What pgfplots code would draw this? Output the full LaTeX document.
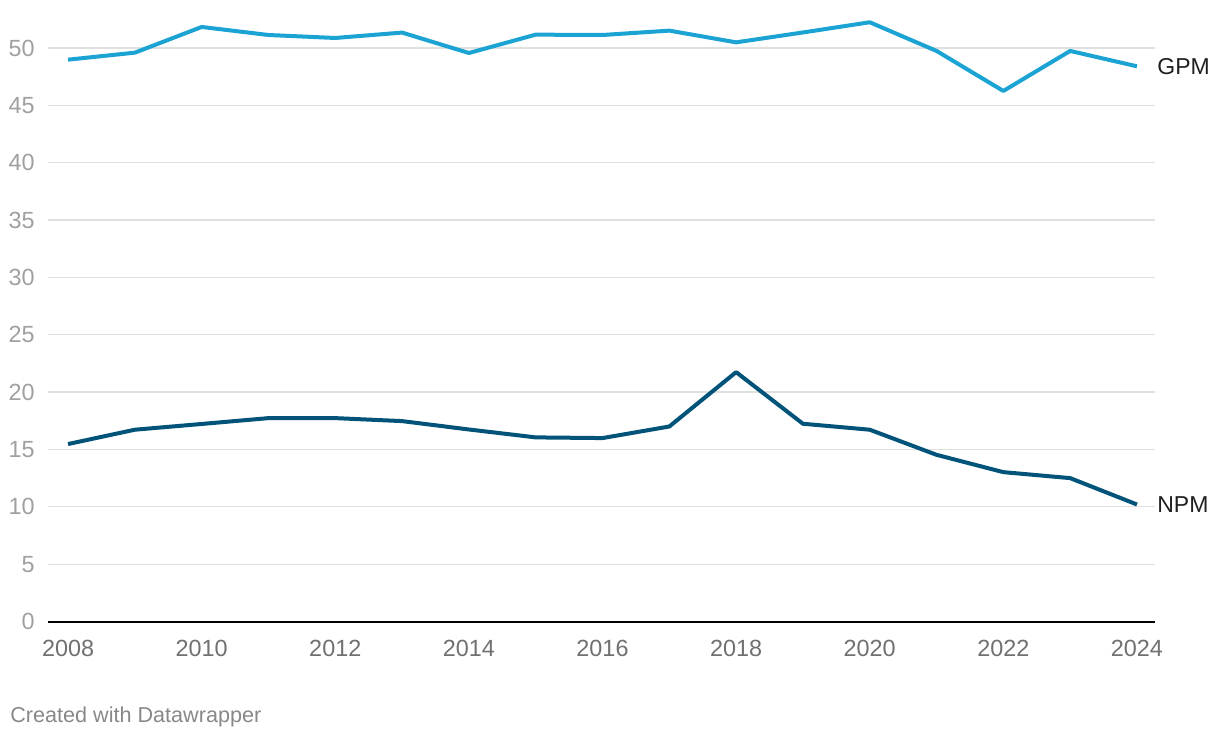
\documentclass[border=0pt]{standalone}
\usepackage{fontspec}
\setmainfont{Liberation Sans}
\usepackage{pgfplots}
\pgfplotsset{compat=1.18}
\definecolor{gpm}{HTML}{1BA3D3}
\definecolor{npm}{HTML}{01537A}
\definecolor{gridgray}{HTML}{E0E0E0}
\definecolor{ylab}{HTML}{A0A0A0}
\definecolor{xlab}{HTML}{707070}
\definecolor{foot}{HTML}{888888}

\begin{document}
\begin{tikzpicture}
\path[use as bounding box] (-24bp,-58.25bp) rectangle (586bp,310.75bp);
\begin{axis}[
  at={(0,0)}, anchor=south west,
  scale only axis, width=553.5bp, height=301.1bp,
  xmin=2007.7, xmax=2024.27, ymin=0, ymax=52.5,
  axis x line*=bottom, axis y line*=left,
  x axis line style={black, line width=1bp, -},
  y axis line style={draw=none},
  major tick length=0pt,
  xtick={2008,2010,...,2024}, ytick={0,5,...,50},
  ymajorgrids, grid style={gridgray, line width=0.6bp},
  /pgf/number format/1000 sep={},
  /pgf/number format/assume math mode=true,
  tick label style={font=\fontsize{11.7bp}{13bp}\selectfont, inner sep=0pt},
  xticklabel style={text=xlab, anchor=north, yshift=-9bp},
  yticklabel style={text=ylab, anchor=east, xshift=-6.5bp},
  clip=false,
]
\addplot[gpm, line width=2bp, line join=round] coordinates {
  (2008,48.98) (2009,49.59) (2010,51.83) (2011,51.13) (2012,50.87)
  (2013,51.34) (2014,49.56) (2015,51.16) (2016,51.13) (2017,51.51)
  (2018,50.49) (2019,51.35) (2020,52.24) (2021,49.74) (2022,46.25)
  (2023,49.74) (2024,48.40)};
\addplot[npm, line width=2bp, line join=round] coordinates {
  (2008,15.47) (2009,16.72) (2010,17.22) (2011,17.73) (2012,17.73)
  (2013,17.47) (2014,16.74) (2015,16.05) (2016,15.99) (2017,17.00)
  (2018,21.74) (2019,17.24) (2020,16.72) (2021,14.53) (2022,13.02)
  (2023,12.50) (2024,10.20)};
\node[anchor=west, inner sep=0pt, xshift=10bp, text=black!88,
  font=\fontsize{11.5bp}{13bp}\selectfont] at (axis cs:2024,48.40) {GPM};
\node[anchor=west, inner sep=0pt, xshift=10bp, text=black!88,
  font=\fontsize{11.5bp}{13bp}\selectfont] at (axis cs:2024,10.20) {NPM};
\end{axis}
\node[anchor=base west, inner sep=0pt, text=foot,
  font=\fontsize{10.8bp}{12bp}\selectfont] at (-19bp,-50.25bp) {Created with Datawrapper};
\end{tikzpicture}
\end{document}
